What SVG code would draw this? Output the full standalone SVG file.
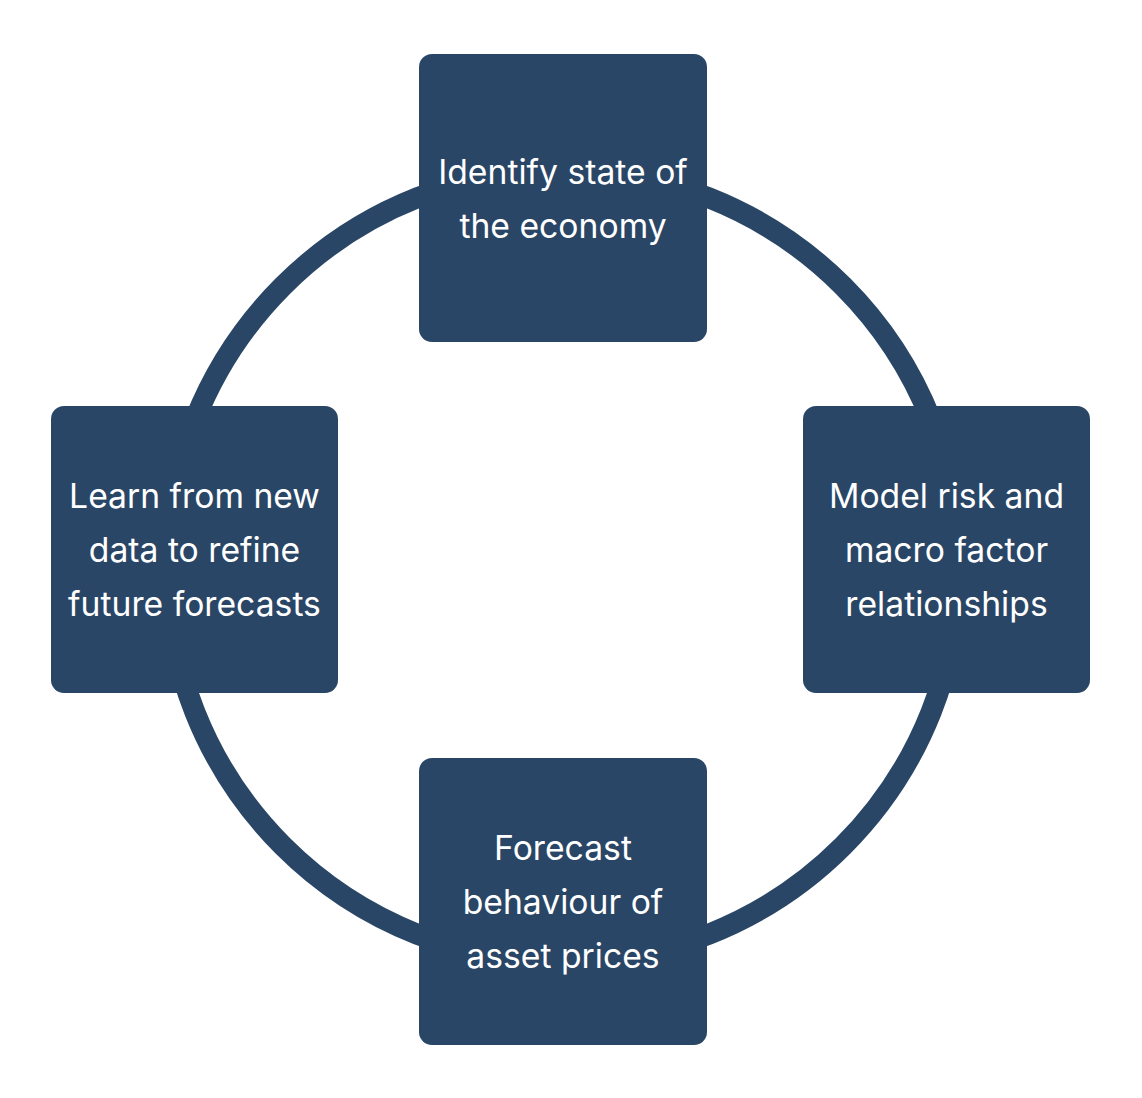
<svg xmlns="http://www.w3.org/2000/svg" width="1142" height="1098" viewBox="0 0 1142 1098">
<style>
.box{fill:#2a4666;}
.lbl{fill:#ffffff;font-family:Inter,"Noto Sans","Liberation Sans",sans-serif;font-size:33.7px;text-anchor:middle;}
</style>
<rect width="1142" height="1098" fill="#ffffff"/>
<g id="connectors">
<circle cx="563" cy="566" r="396" fill="none" stroke="#2a4666" stroke-width="21"/>
</g>
<g id="node-top">
<rect class="box" x="419" y="54" width="288" height="288" rx="13"/>
<text class="lbl" x="563" y="184">Identify state of</text>
<text class="lbl" x="563" y="238">the economy</text>
</g>
<g id="node-right">
<rect class="box" x="803" y="406" width="287" height="287" rx="13"/>
<text class="lbl" x="946.5" y="508">Model risk and</text>
<text class="lbl" x="946.5" y="562">macro factor</text>
<text class="lbl" x="946.5" y="616">relationships</text>
</g>
<g id="node-bottom">
<rect class="box" x="419" y="758" width="288" height="287" rx="13"/>
<text class="lbl" x="563" y="860">Forecast</text>
<text class="lbl" x="563" y="914">behaviour of</text>
<text class="lbl" x="563" y="968">asset prices</text>
</g>
<g id="node-left">
<rect class="box" x="51" y="406" width="287" height="287" rx="13"/>
<text class="lbl" x="194.5" y="508">Learn from new</text>
<text class="lbl" x="194.5" y="562">data to refine</text>
<text class="lbl" x="194.5" y="616">future forecasts</text>
</g>
</svg>
